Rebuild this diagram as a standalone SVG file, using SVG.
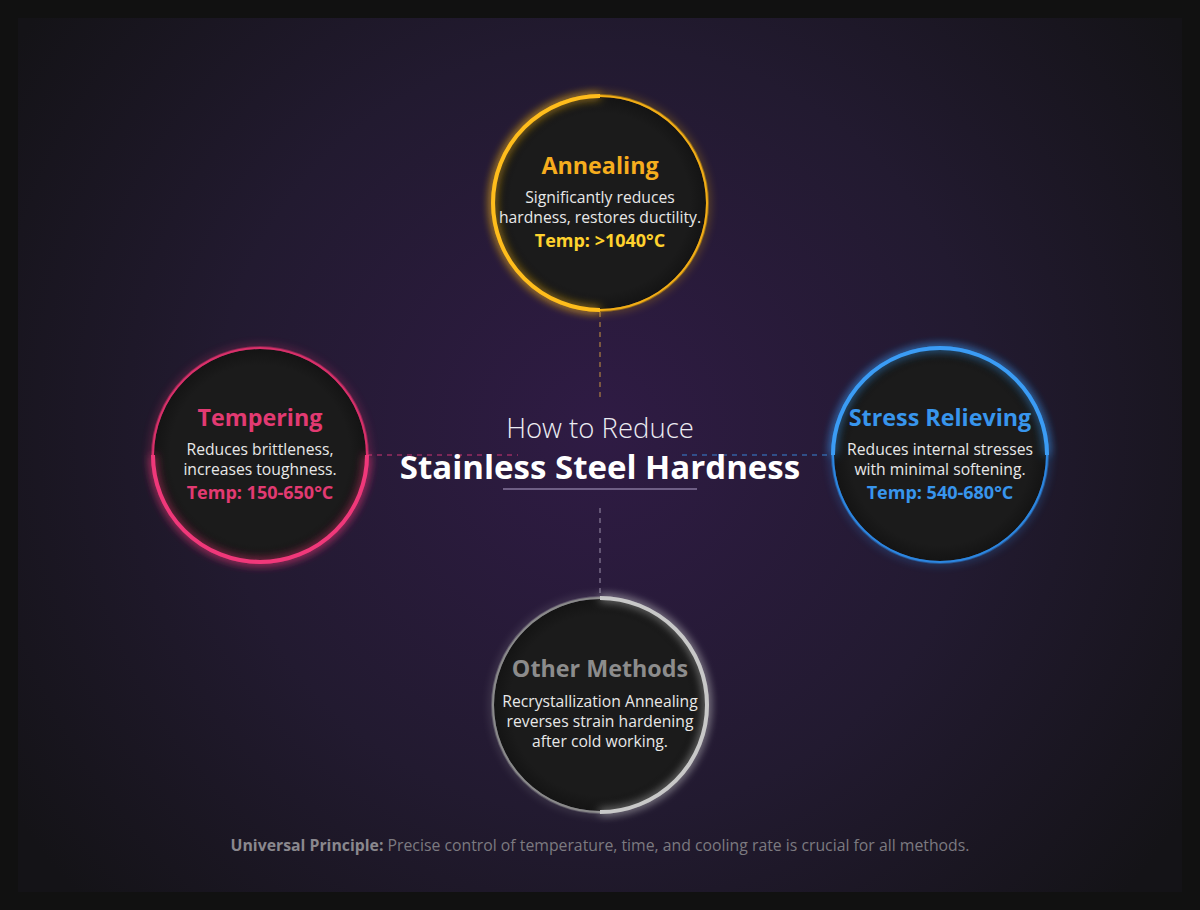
<svg xmlns="http://www.w3.org/2000/svg" width="1200" height="910" viewBox="0 0 1200 910">
<defs>
<radialGradient id="bg" cx="600" cy="430" r="700" gradientUnits="userSpaceOnUse">
<stop offset="0" stop-color="#2f1b44"/>
<stop offset="0.55" stop-color="#221a30"/>
<stop offset="1" stop-color="#141317"/>
</radialGradient>
<radialGradient id="disc" cx="0.5" cy="0.5" r="0.5">
<stop offset="0.85" stop-color="#1b1b1b"/>
<stop offset="1" stop-color="#141414"/>
</radialGradient>
<filter id="glow" x="-30%" y="-30%" width="160%" height="160%">
<feGaussianBlur in="SourceGraphic" stdDeviation="5" result="b"/>
<feMerge><feMergeNode in="b"/><feMergeNode in="SourceGraphic"/></feMerge>
</filter>
</defs>
<style>
.disc{fill:url(#disc);}
.ring{fill:none;stroke-width:2;}
.arc{fill:none;stroke-width:4;}
.title{font-family:"Open Sans","Noto Sans",sans-serif;font-weight:700;font-size:23.3px;text-anchor:middle;}
.desc{font-family:"Open Sans","Noto Sans",sans-serif;font-size:15.7px;fill:#e8e8e8;text-anchor:middle;}
.temp{font-family:"Open Sans","Noto Sans",sans-serif;font-weight:700;font-size:18px;text-anchor:middle;}
.conn{fill:none;stroke-width:1.5;stroke-dasharray:5 5;opacity:0.6;}
</style>
<rect x="0" y="0" width="1200" height="910" fill="#111111"/>
<rect x="18" y="18" width="1164" height="874" fill="url(#bg)"/>

<g id="connectors">
<line class="conn" x1="600" y1="312" x2="600" y2="402" stroke="#d9a441"/>
<line class="conn" x1="600" y1="508" x2="600" y2="598" stroke="#a8a0b8"/>
<line class="conn" x1="367" y1="455" x2="518" y2="455" stroke="#e0387a"/>
<line class="conn" x1="682" y1="455" x2="833" y2="455" stroke="#3b8fe8"/>
</g>

<g id="title">
<text x="600" y="438" font-family="Open Sans,Noto Sans,sans-serif" font-weight="300" font-size="27.5" fill="#ececf2" text-anchor="middle">How to Reduce</text>
<text x="600" y="479" font-family="Open Sans,Noto Sans,sans-serif" font-weight="700" font-size="33" fill="#ffffff" text-anchor="middle">Stainless Steel Hardness</text>
<line x1="503" y1="489" x2="697" y2="489" stroke="#6e5e84" stroke-width="2"/>
</g>

<g id="annealing">
<circle cx="600" cy="203" r="107" fill="none" stroke="#f5b400" stroke-width="4" opacity="0.5" filter="url(#glow)"/>
<circle class="disc" cx="600" cy="203" r="106"/>
<circle class="ring" cx="600" cy="203" r="107" stroke="#f2ad16"/>
<path class="arc" d="M600,96 A107,107 0 0 0 600,310" stroke="#ffbd1c" filter="url(#glow)"/>
<text class="title" x="600" y="174" fill="#f6ad1e">Annealing</text>
<text class="desc" x="600" y="203">Significantly reduces</text>
<text class="desc" x="600" y="223">hardness, restores ductility.</text>
<text class="temp" x="600" y="247" fill="#ffd22e">Temp: &gt;1040°C</text>
</g>

<g id="tempering">
<circle cx="260" cy="455" r="107" fill="none" stroke="#e8336f" stroke-width="4" opacity="0.5" filter="url(#glow)"/>
<circle class="disc" cx="260" cy="455" r="106"/>
<circle class="ring" cx="260" cy="455" r="107" stroke="#d9306a"/>
<path class="arc" d="M153,455 A107,107 0 0 0 367,455" stroke="#f0397a" filter="url(#glow)"/>
<text class="title" x="260" y="426" fill="#e23a72">Tempering</text>
<text class="desc" x="260" y="455">Reduces brittleness,</text>
<text class="desc" x="260" y="475">increases toughness.</text>
<text class="temp" x="260" y="499" fill="#e23a72">Temp: 150-650°C</text>
</g>

<g id="stress-relieving">
<circle cx="940" cy="455" r="107" fill="none" stroke="#2f8ff0" stroke-width="4" opacity="0.5" filter="url(#glow)"/>
<circle class="disc" cx="940" cy="455" r="106"/>
<circle class="ring" cx="940" cy="455" r="107" stroke="#2c86e0"/>
<path class="arc" d="M833,455 A107,107 0 0 1 1047,455" stroke="#3a9cf5" filter="url(#glow)"/>
<text class="title" x="940" y="426" fill="#3895ec">Stress Relieving</text>
<text class="desc" x="940" y="455">Reduces internal stresses</text>
<text class="desc" x="940" y="475">with minimal softening.</text>
<text class="temp" x="940" y="499" fill="#3895ec">Temp: 540-680°C</text>
</g>

<g id="other-methods">
<circle cx="600" cy="705" r="107" fill="none" stroke="#bfbfbf" stroke-width="4" opacity="0.35" filter="url(#glow)"/>
<circle class="disc" cx="600" cy="705" r="106"/>
<circle class="ring" cx="600" cy="705" r="107" stroke="#8a8a8a"/>
<path class="arc" d="M600,598 A107,107 0 0 1 600,812" stroke="#c8c8c8" filter="url(#glow)"/>
<text class="title" x="600" y="677" fill="#8c8c8c">Other Methods</text>
<text class="desc" x="600" y="707">Recrystallization Annealing</text>
<text class="desc" x="600" y="727">reverses strain hardening</text>
<text class="desc" x="600" y="747">after cold working.</text>
</g>

<g id="footer">
<text x="600" y="851" font-family="Open Sans,Noto Sans,sans-serif" font-size="15.8" fill="#7c7a80" text-anchor="middle"><tspan font-weight="700" fill="#8a888e">Universal Principle:</tspan> Precise control of temperature, time, and cooling rate is crucial for all methods.</text>
</g>
</svg>
